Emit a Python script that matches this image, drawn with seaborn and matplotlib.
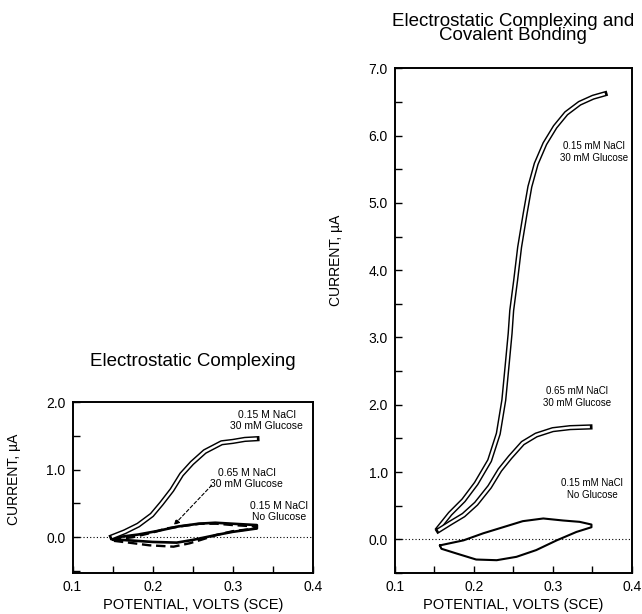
import numpy as np
import pandas as pd
import seaborn as sns
import matplotlib.pyplot as plt
from matplotlib.ticker import MultipleLocator

# ---- dati ----
# pannello sinistro: Electrostatic Complexing
sx_glu = [0.149, 0.165, 0.182, 0.199, 0.211, 0.224, 0.236, 0.249, 0.265,
          0.286, 0.300, 0.315, 0.330]
sy_glu = [0.005, 0.08, 0.18, 0.33, 0.50, 0.70, 0.93, 1.10, 1.27,
          1.40, 1.42, 1.45, 1.46]

sx_065 = [0.149, 0.175, 0.200, 0.217, 0.240, 0.259, 0.280, 0.300, 0.329,
          0.329, 0.300, 0.280, 0.260, 0.246, 0.226, 0.196, 0.170, 0.149]
sy_065 = [-0.04, 0.00, 0.07, 0.13, 0.17, 0.20, 0.20, 0.18, 0.16,
          0.13, 0.09, 0.035, -0.04, -0.09, -0.14, -0.12, -0.08, -0.05]

sx_noglu = [0.149, 0.182, 0.207, 0.232, 0.257, 0.278, 0.300, 0.330,
            0.330, 0.300, 0.280, 0.250, 0.230, 0.200, 0.175, 0.149]
sy_noglu = [-0.01, 0.04, 0.095, 0.16, 0.20, 0.215, 0.20, 0.18,
            0.13, 0.08, 0.035, -0.04, -0.08, -0.07, -0.05, -0.03]

# pannello destro: Electrostatic Complexing and Covalent Bonding
dx_glu = [0.155, 0.170, 0.187, 0.203, 0.220, 0.231, 0.238, 0.242, 0.246,
          0.248, 0.253, 0.258, 0.265, 0.271, 0.279, 0.290, 0.303, 0.317,
          0.334, 0.351, 0.366]
dy_glu = [0.16, 0.38, 0.58, 0.83, 1.17, 1.57, 2.07, 2.56, 3.06,
          3.40, 3.85, 4.34, 4.84, 5.24, 5.58, 5.88, 6.13, 6.33,
          6.48, 6.57, 6.62]

dx_065 = [0.155, 0.170, 0.187, 0.203, 0.220, 0.233, 0.246, 0.262, 0.279,
          0.300, 0.322, 0.347]
dy_065 = [0.13, 0.24, 0.36, 0.53, 0.78, 1.03, 1.22, 1.43, 1.55,
          1.63, 1.66, 1.67]

dx_noglu = [0.157, 0.187, 0.212, 0.237, 0.262, 0.288, 0.313, 0.334, 0.349,
            0.349, 0.330, 0.305, 0.279, 0.254, 0.229, 0.203, 0.178, 0.159, 0.157]
dy_noglu = [-0.09, -0.015, 0.09, 0.18, 0.27, 0.31, 0.28, 0.26, 0.22,
            0.18, 0.11, -0.015, -0.16, -0.26, -0.31, -0.30, -0.21, -0.14, -0.09]

sns.set_style("ticks", {'axes.edgecolor': 'black', 'text.color': 'black',
                        'axes.labelcolor': 'black', 'xtick.color': 'black',
                        'ytick.color': 'black'})
plt.rcParams['font.family'] = ['Liberation Sans', 'DejaVu Sans']

fig = plt.figure(figsize=(6.42, 6.14), dpi=100)
ax_s = fig.add_axes([0.113, 0.0668, 0.3745, 0.278])
ax_d = fig.add_axes([0.615, 0.0668, 0.369, 0.822])


def hollow(ax, x, y):
    df = pd.DataFrame({'x': x, 'y': y})
    sns.lineplot(data=df, x='x', y='y', ax=ax, sort=False, color='black', lw=3.8,
                 solid_capstyle='projecting', estimator=None)
    sns.lineplot(data=df, x='x', y='y', ax=ax, sort=False, color='white', lw=1.7,
                 solid_capstyle='butt', estimator=None)


def loop(ax, x, y, **kw):
    df = pd.DataFrame({'x': x, 'y': y})
    sns.lineplot(data=df, x='x', y='y', ax=ax, sort=False, color='black',
                 estimator=None, **kw)


# sinistra
loop(ax_s, sx_065, sy_065, lw=1.7, linestyle=(0, (4, 2)))
loop(ax_s, sx_noglu, sy_noglu, lw=1.9)
hollow(ax_s, sx_glu, sy_glu)
ax_s.set_ylim(-0.53, 2.0)

# destra
hollow(ax_d, dx_glu, dy_glu)
hollow(ax_d, dx_065, dy_065)
loop(ax_d, dx_noglu, dy_noglu, lw=1.5)
ax_d.set_ylim(-0.5, 7.0)

for ax in [ax_s, ax_d]:
    ax.axhline(0, color='black', lw=0.8, linestyle=(0, (1, 2)), zorder=0)
    ax.set_xlim(0.1, 0.4)
    ax.xaxis.set_major_locator(MultipleLocator(0.1))
    ax.xaxis.set_minor_locator(MultipleLocator(0.05))
    ax.yaxis.set_major_locator(MultipleLocator(1.0))
    ax.yaxis.set_minor_locator(MultipleLocator(0.5))
    ax.xaxis.set_major_formatter(lambda v, p: f"{v:.1f}")
    ax.yaxis.set_major_formatter(lambda v, p: f"{v:.1f}")
    ax.tick_params(which='both', direction='in', top=False, right=False,
                   labelsize=10, width=1.0, length=5, pad=5, colors='black')
    for sp in ax.spines.values():
        sp.set_visible(True)
        sp.set_linewidth(1.4)
        sp.set_color('black')
    ax.set_xlabel('POTENTIAL, VOLTS (SCE)', fontsize=10.5, labelpad=3)
    ax.set_ylabel('CURRENT, \u00b5A', fontsize=10)

ax_s.yaxis.set_label_coords(-0.215, 0.55)
ax_d.yaxis.set_label_coords(-0.22, 0.62)

ax_s.set_title('Electrostatic Complexing', fontsize=13.5, pad=26)
ax_d.set_title('Electrostatic Complexing and\nCovalent Bonding', fontsize=13.5,
               pad=20, linespacing=0.8)

# etichette
ax_s.text(0.342, 1.73, '0.15 M NaCl\n30 mM Glucose', ha='center', va='center',
          fontsize=7.5, linespacing=1.2)
ax_s.text(0.317, 0.87, '0.65 M NaCl\n30 mM Glucose', ha='center', va='center',
          fontsize=7.5, linespacing=1.2)
ax_s.text(0.358, 0.38, '0.15 M NaCl\nNo Glucose', ha='center', va='center',
          fontsize=7.5, linespacing=1.2)
ax_s.annotate('', xy=(0.224, 0.15), xytext=(0.276, 0.80),
              arrowprops=dict(arrowstyle='-|>', color='black', lw=0.8,
                              linestyle=(0, (3, 2)), mutation_scale=8))

ax_d.text(0.352, 5.75, '0.15 mM NaCl\n30 mM Glucose', ha='center', va='center',
          fontsize=7, linespacing=1.25)
ax_d.text(0.331, 2.11, '0.65 mM NaCl\n30 mM Glucose', ha='center', va='center',
          fontsize=7, linespacing=1.25)
ax_d.text(0.350, 0.75, '0.15 mM NaCl\nNo Glucose', ha='center', va='center',
          fontsize=7, linespacing=1.25)

fig.savefig('out.png', dpi=100)
